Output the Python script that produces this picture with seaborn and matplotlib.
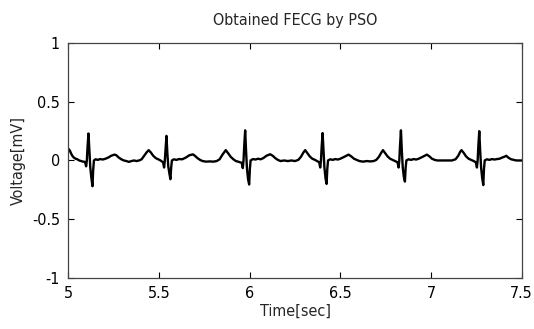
import numpy as np
import pandas as pd
import matplotlib
matplotlib.use("Agg")
import matplotlib.pyplot as plt
import seaborn as sns

# ---- data (time in s, voltage in mV) ----
time_sec = [
    # start + beat 1
    5.000, 5.008, 5.015, 5.022, 5.030, 5.040, 5.050, 5.060, 5.070, 5.081,
    5.092, 5.098, 5.102, 5.106, 5.111, 5.116, 5.121, 5.127, 5.133, 5.137,
    5.141,
    5.150, 5.162, 5.176, 5.190, 5.205, 5.220, 5.236, 5.254, 5.264, 5.278,
    5.292, 5.306, 5.320, 5.334, 5.348, 5.362, 5.376, 5.390, 5.404, 5.418,
    5.432, 5.443, 5.454, 5.468, 5.482, 5.496, 5.508,
    # beat 2
    5.522, 5.528, 5.532, 5.536, 5.541, 5.546, 5.551, 5.557, 5.563, 5.567,
    5.571,
    5.582, 5.596, 5.610, 5.628, 5.648, 5.668, 5.687, 5.698, 5.712, 5.726,
    5.740, 5.760, 5.780, 5.800, 5.818, 5.834, 5.850, 5.868, 5.882, 5.896,
    5.910, 5.924, 5.936,
    # beat 3
    5.956, 5.962, 5.966, 5.970, 5.975, 5.980, 5.985, 5.991, 5.997, 6.001,
    6.005,
    6.018, 6.032, 6.046, 6.060, 6.075, 6.092, 6.113, 6.127, 6.141, 6.155,
    6.170, 6.190, 6.210, 6.230, 6.250, 6.268, 6.282, 6.297, 6.306, 6.317,
    6.331, 6.345, 6.360, 6.372,
    # beat 4
    6.383, 6.389, 6.393, 6.397, 6.402, 6.407, 6.412, 6.418, 6.424, 6.428,
    6.432,
    6.444, 6.458, 6.472, 6.486, 6.500, 6.520, 6.545, 6.560, 6.575, 6.590,
    6.605, 6.625, 6.645, 6.665, 6.684, 6.698, 6.712, 6.727, 6.735, 6.746,
    6.760, 6.774, 6.788, 6.802,
    # beat 5
    6.815, 6.821, 6.825, 6.829, 6.834, 6.839, 6.844, 6.850, 6.856, 6.860,
    6.864,
    6.876, 6.890, 6.904, 6.918, 6.932, 6.952, 6.977, 6.991, 7.005, 7.020,
    7.035, 7.055, 7.075, 7.095, 7.115, 7.135, 7.150, 7.161, 7.168, 7.180,
    7.193, 7.207, 7.221, 7.235,
    # beat 6
    7.247, 7.253, 7.257, 7.261, 7.266, 7.271, 7.276, 7.282, 7.288, 7.292,
    7.296,
    7.308, 7.322, 7.336, 7.350, 7.364, 7.378, 7.392, 7.405, 7.415, 7.428,
    7.442, 7.456, 7.470, 7.485, 7.500,
]
voltage_mv = [
    0.100, 0.085, 0.060, 0.040, 0.025, 0.015, 0.010, 0.000, -0.005, -0.010,
    -0.012, -0.050, 0.000, 0.120, 0.230, 0.080, -0.060, -0.150, -0.220, -0.080,
    0.000,
    0.010, 0.005, 0.012, 0.008, 0.015, 0.025, 0.040, 0.050, 0.045, 0.025,
    0.010, 0.000, -0.005, -0.012, -0.005, 0.000, -0.005, 0.000, 0.010, 0.040,
    0.070, 0.088, 0.070, 0.040, 0.020, 0.010, 0.000,
    -0.015, -0.060, 0.000, 0.100, 0.210, 0.060, -0.050, -0.110, -0.160, -0.060,
    0.000,
    0.010, 0.005, 0.012, 0.010, 0.025, 0.045, 0.052, 0.040, 0.020, 0.005,
    -0.005, -0.010, -0.008, -0.010, -0.005, 0.010, 0.050, 0.088, 0.060, 0.030,
    0.010, -0.005, -0.010,
    -0.020, -0.065, 0.000, 0.130, 0.257, 0.080, -0.070, -0.160, -0.205, -0.070,
    0.000,
    0.012, 0.008, 0.015, 0.010, 0.020, 0.040, 0.053, 0.040, 0.020, 0.005,
    -0.005, 0.000, -0.005, 0.000, -0.005, 0.005, 0.030, 0.070, 0.088, 0.065,
    0.035, 0.015, 0.005, -0.005,
    -0.015, -0.060, 0.000, 0.120, 0.234, 0.080, -0.060, -0.150, -0.200, -0.070,
    0.000,
    0.010, 0.005, 0.012, 0.008, 0.015, 0.030, 0.050, 0.035, 0.015, 0.005,
    -0.005, -0.010, -0.005, -0.008, -0.005, 0.005, 0.030, 0.070, 0.088, 0.065,
    0.035, 0.015, 0.005, -0.005,
    -0.015, -0.060, 0.000, 0.130, 0.257, 0.080, -0.060, -0.140, -0.180, -0.060,
    0.000,
    0.010, 0.005, 0.012, 0.008, 0.015, 0.030, 0.050, 0.035, 0.015, 0.005,
    0.000, 0.000, 0.000, 0.000, 0.000, 0.010, 0.040, 0.075, 0.088, 0.065,
    0.035, 0.015, 0.005, -0.005,
    -0.015, -0.060, 0.000, 0.130, 0.250, 0.080, -0.060, -0.150, -0.210, -0.070,
    0.000,
    0.010, 0.005, 0.012, 0.008, 0.012, 0.015, 0.025, 0.032, 0.040, 0.022,
    0.010, 0.005, 0.000, 0.000, 0.000,
]
x_ticks = [5, 5.5, 6, 6.5, 7, 7.5]
x_tick_labels = ["5", "5.5", "6", "6.5", "7", "7.5"]
y_ticks = [-1, -0.5, 0, 0.5, 1]
y_tick_labels = ["-1", "-0.5", "0", "0.5", "1"]


def main():
    sns.set_style("ticks")
    plt.rcParams["font.family"] = ["DejaVu Sans"]
    plt.rcParams["font.stretch"] = "condensed"
    plt.rcParams["xtick.direction"] = "in"
    plt.rcParams["ytick.direction"] = "in"

    df = pd.DataFrame({"t": time_sec, "v": voltage_mv})

    fig = plt.figure(figsize=(5.34, 3.29), dpi=100)
    ax = fig.add_axes([0.128, 0.156, 0.849, 0.7125])
    sns.lineplot(data=df, x="t", y="v", estimator=None, sort=False,
                 color="black", linewidth=1.7, ax=ax)

    ax.set_xlim(5, 7.5)
    ax.set_ylim(-1, 1)
    ax.set_xticks(x_ticks)
    ax.set_xticklabels(x_tick_labels)
    ax.set_yticks(y_ticks)
    ax.set_yticklabels(y_tick_labels)
    ax.tick_params(axis="both", labelsize=11.5, length=4, width=0.8,
                   top=True, right=True, colors="black")
    ax.tick_params(axis="x", pad=6)
    ax.tick_params(axis="y", pad=6)
    for sp in ax.spines.values():
        sp.set_visible(True)
        sp.set_color("#444444")
        sp.set_linewidth(0.9)

    ax.set_title("Obtained FECG by PSO", fontsize=11.5, pad=13)
    ax.set_xlabel("Time[sec]", fontsize=11.5, labelpad=2)
    ax.set_ylabel("Voltage[mV]", fontsize=11.5, labelpad=4)
    ax.grid(False)

    fig.savefig("out.png", dpi=100)
    plt.close(fig)


if __name__ == "__main__":
    main()
